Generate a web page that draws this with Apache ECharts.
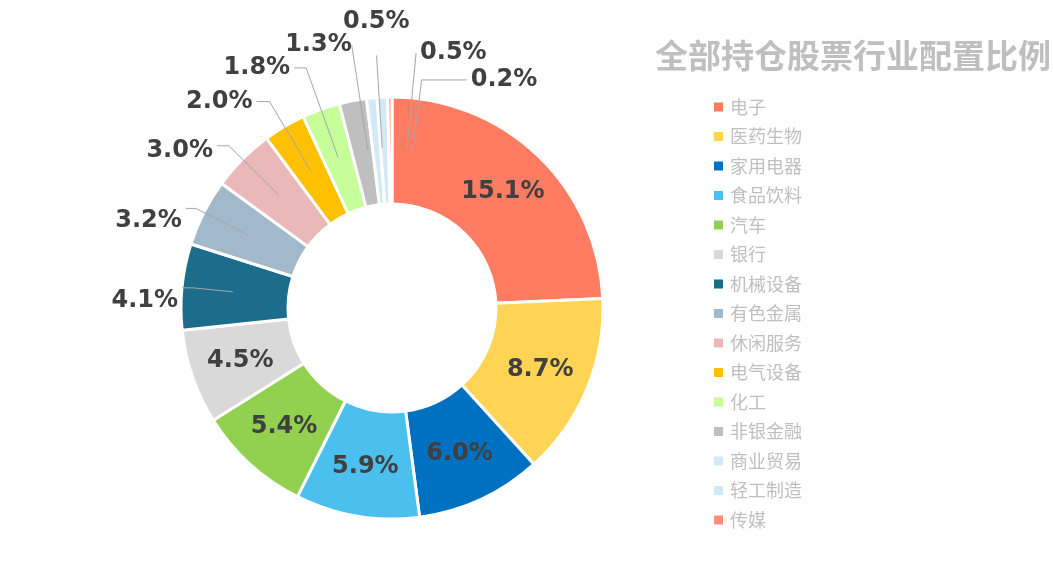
<!DOCTYPE html>
<html>
<head>
<meta charset="utf-8">
<script src="https://cdn.jsdelivr.net/npm/echarts@6/dist/echarts.min.js"></script>
<style>html,body{margin:0;padding:0;background:#fff;}#chart{width:1053px;height:569px;}</style>
</head>
<body>
<div id="chart"></div>
<script>
// ---- data ----
const titleText = '全部持仓股票行业配置比例';
const categories = ['电子','医药生物','家用电器','食品饮料','汽车','银行','机械设备','有色金属','休闲服务','电气设备','化工','非银金融','商业贸易','轻工制造','传媒'];
const values = [15.1, 8.7, 6.0, 5.9, 5.4, 4.5, 4.1, 3.2, 3.0, 2.0, 1.8, 1.3, 0.5, 0.5, 0.2];

// ---- styles ----
const colors = ['#FF7C62','#FFD454','#0070C0','#4BBFEE','#92D050','#D9D9D9','#1B6D8B','#A2B8CB','#EAB8B8','#FFC000','#C6FE9A','#BFBFBF','#D2EAF6','#D2EAF6','#FF9074'];
const insideCount = 6;
// outside label tweaks: group (leader-line rotation), line lengths, horizontal text shift (padX), vertical text shift (dy)
const tweaks = {
  6:{g:'A', L1:40, L2:11, padX:0, dy:13},
  7:{g:'A', L1:60, L2:10, padX:0, dy:12},
  8:{g:'A', L1:70, L2:12, padX:0, dy:5},
  9:{g:'A', L1:80, L2:13, padX:0, dy:0},
  10:{g:'A', L1:95, L2:12, padX:0, dy:0},
  11:{g:'C', L1:106, L2:0, padX:-4, dy:0},
  12:{g:'C', L1:93, L2:0, padX:-37, dy:-34},
  13:{g:'B', L1:96, L2:0, padX:0, dy:0},
  14:{g:'B', L1:70, L2:45, padX:0, dy:0}
};
const groupStart = {A:90, C:88, B:82};
const center = [392, 308];
const labelFont = {fontFamily:'DejaVu Sans', fontWeight:'bold', fontSize:24, color:'#404040'};

const mainData = categories.map((c,i)=>({
  name:c, value:values[i],
  itemStyle:{color:colors[i]},
  label:{show:i<insideCount}
}));
function fmtText(v){ return v.toFixed(1)+'%'; }
function labelData(g){
  return categories.map((c,i)=>{
    const t = tweaks[i];
    const show = !!t && t.g===g;
    const lbl = {show:show};
    if (t) {
      lbl.padding = [0, t.padX, 0, 0];
      if (t.dy > 0) { lbl.lineHeight = 2*t.dy; lbl.formatter = p => '\n' + fmtText(p.value); }
      else if (t.dy < 0) { lbl.lineHeight = -2*t.dy; lbl.formatter = p => fmtText(p.value) + '\n'; }
    }
    return {name:c, value:values[i], itemStyle:{color:'rgba(0,0,0,0)'},
      label:lbl,
      labelLine:{show:show, length: t ? t.L1 : 10, length2: t ? t.L2 : 10}};
  });
}
const labelSeries = (g) => ({
  type:'pie', radius:[0,160], center:center, startAngle:groupStart[g], clockwise:true,
  silent:true, animation:false, legendHoverLink:false, avoidLabelOverlap:false,
  itemStyle:{borderWidth:0},
  label:Object.assign({position:'outside', formatter:p=>fmtText(p.value), distanceToLabelLine:4}, labelFont),
  labelLine:{lineStyle:{color:'#A6A6A6', width:1}, smooth:false},
  labelLayout:{hideOverlap:false, moveOverlap:null},
  emphasis:{disabled:true},
  data:labelData(g),
  z:3
});

const chart = echarts.init(document.getElementById('chart'), null, {renderer:'canvas'});
chart.setOption({
  animation:false,
  backgroundColor:'#ffffff',
  title:{text:titleText, left:650, top:34, textStyle:{fontFamily:'Noto Sans CJK SC', fontWeight:'bold', fontSize:33, color:'#BFBFBF'}},
  legend:{orient:'vertical', left:707, top:93, itemWidth:11, itemHeight:11, itemGap:11.5, icon:'rect',
    selectedMode:false,
    textStyle:{fontFamily:'Noto Sans CJK SC', fontSize:18, lineHeight:18, color:'#BFBFBF', padding:[0,0,0,1]},
    data:categories},
  series:[
    {type:'pie', name:'main', radius:[104,211], center:center, startAngle:90, clockwise:true,
     avoidLabelOverlap:false, animation:false,
     itemStyle:{borderColor:'#ffffff', borderWidth:3},
     label:Object.assign({position:'inside', formatter:p=>fmtText(p.value)}, labelFont),
     labelLine:{show:false},
     emphasis:{disabled:true},
     data:mainData, z:2},
    labelSeries('A'),
    labelSeries('C'),
    labelSeries('B')
  ]
});
</script>
</body>
</html>
